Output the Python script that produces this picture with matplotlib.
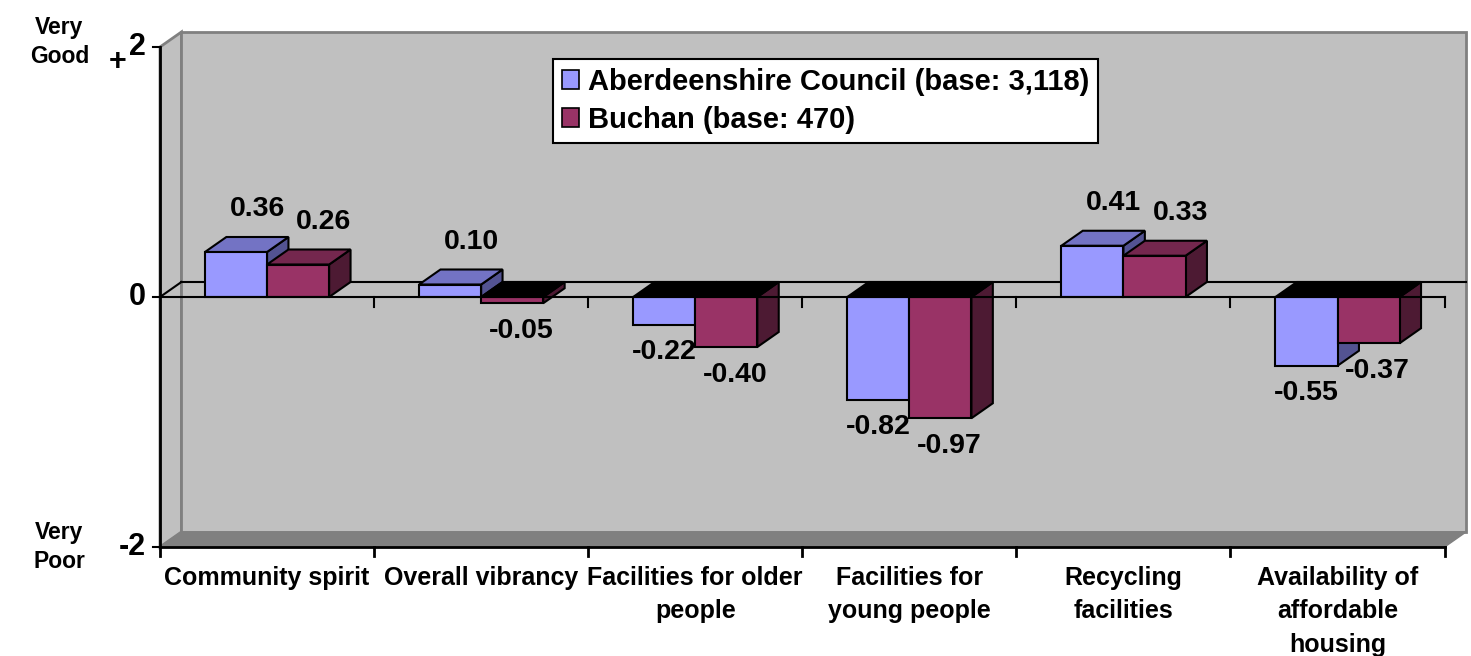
import matplotlib
matplotlib.use("Agg")
import matplotlib.pyplot as plt
from matplotlib.patches import Polygon, Rectangle, Patch

plt.rcParams['font.family'] = ['Liberation Sans', 'DejaVu Sans']
plt.rcParams['font.weight'] = 'bold'

# Données
categories = ["Community spirit", "Overall vibrancy", "Facilities for older\npeople",
              "Facilities for\nyoung people", "Recycling\nfacilities",
              "Availability of\naffordable\nhousing"]
aberdeenshire = [0.36, 0.10, -0.22, -0.82, 0.41, -0.55]
buchan = [0.26, -0.05, -0.40, -0.97, 0.33, -0.37]
series_names = ["Aberdeenshire Council (base: 3,118)", "Buchan (base: 470)"]
y_ticks = [-2, 0, 2]

# Styles (face avant, dessus, côté)
couleurs = [("#9999FF", "#7373C4", "#535392"),
            ("#993366", "#74274E", "#4D1A33")]

DX, DY = 0.1, 0.12      # profondeur 3D (unités x / unités y)
W = 0.29                 # largeur d'une barre
N = len(categories)

fig = plt.figure(figsize=(14.71, 6.56), dpi=100)
ax = fig.add_axes([160 / 1471, 109 / 656, 1306 / 1471, 515 / 656])
ax.set_xlim(0, N + DX)
ax.set_ylim(-2, 2 + DY)
ax.axis('off')

# Murs et sol
ax.add_patch(Polygon([(0, -2), (DX, -2 + DY), (DX, 2 + DY), (0, 2)],
                     facecolor="#C0C0C0", edgecolor="#808080", lw=2, clip_on=False))
ax.add_patch(Rectangle((DX, -2 + DY), N, 4, facecolor="#C0C0C0",
                       edgecolor="#808080", lw=2, clip_on=False))
ax.add_patch(Polygon([(0, -2), (N, -2), (N + DX, -2 + DY), (DX, -2 + DY)],
                     facecolor="#808080", edgecolor="#808080", lw=1, clip_on=False))

# Ligne du zéro (arrière + diagonale)
ax.plot([DX, N + DX], [DY, DY], color="black", lw=1.5, clip_on=False)
ax.plot([0, DX], [0, DY], color="black", lw=1.5, clip_on=False)


def barre3d(x0, v, c):
    front, top, side = c
    x1 = x0 + W
    if v >= 0:
        ax.add_patch(Polygon([(x1, 0), (x1, v), (x1 + DX, v + DY), (x1 + DX, DY)],
                             facecolor=side, edgecolor="black", lw=1.5, zorder=3))
        ax.add_patch(Polygon([(x0, v), (x1, v), (x1 + DX, v + DY), (x0 + DX, v + DY)],
                             facecolor=top, edgecolor="black", lw=1.5, zorder=3))
    else:
        ax.add_patch(Polygon([(x1, v), (x1, 0), (x1 + DX, DY), (x1 + DX, v + DY)],
                             facecolor=side, edgecolor="black", lw=1.5, zorder=3))
        ax.add_patch(Polygon([(x0, 0), (x1, 0), (x1 + DX, DY), (x0 + DX, DY)],
                             facecolor="black", edgecolor="black", lw=1.5, zorder=3))
    ax.add_patch(Rectangle((x0, min(0, v)), W, abs(v), facecolor=front,
                           edgecolor="black", lw=1.5, zorder=3))


for i in range(N):
    for s, vals in enumerate([aberdeenshire, buchan]):
        x0 = i + 0.5 - W + s * W
        barre3d(x0, vals[i], couleurs[s])
        v = vals[i]
        xc = x0 + W / 2
        if v >= 0:
            ax.text(xc + 0.1 + 0.02 * s, v + DY + 0.22, f"{v:.2f}", ha='center',
                    va='center', fontsize=20.5, zorder=5)
        else:
            ax.text(xc + 0.04 * s, v - 0.22, f"{v:.2f}", ha='center',
                    va='center', fontsize=20.5, zorder=5)

# Axes avant
ax.plot([0, N], [0, 0], color="black", lw=1.5, zorder=4, clip_on=False)
ax.plot([0, N], [-2, -2], color="black", lw=2, zorder=4, clip_on=False)
ax.plot([0, 0], [-2, 2], color="black", lw=2, zorder=4, clip_on=False)
for i in range(N + 1):
    ax.plot([i, i], [-2, -2.07], color="black", lw=2, clip_on=False)
    if i > 0:
        ax.plot([i, i], [0, -0.08], color="black", lw=1.5, zorder=4, clip_on=False)
for t in y_ticks:
    ax.plot([-0.035, 0], [t, t], color="black", lw=1.5, clip_on=False)
    ax.text(-0.068, t, str(abs(t)) if t > 0 else str(t), ha='right', va='center',
            fontsize=22)
ax.text(-0.158, 1.88, "+", ha='right', va='center', fontsize=22)

ax.text(-0.47, 2.04, "Very\nGood", ha='center', va='center', fontsize=16.5,
        linespacing=1.35)
ax.text(-0.47, -2.0, "Very\nPoor", ha='center', va='center', fontsize=16.5,
        linespacing=1.35)

for i, lab in enumerate(categories):
    ax.text(i + 0.5, -2.15, lab, ha='center', va='top', fontsize=18,
            linespacing=1.5)

# Légende
handles = [Patch(facecolor=couleurs[s][0], edgecolor="black", lw=1.2)
           for s in range(2)]
leg = fig.legend(handles, series_names, loc='upper left',
                 bbox_to_anchor=(553 / 1471, 1 - 59 / 656), fontsize=21,
                 frameon=True, fancybox=False, edgecolor="black", framealpha=1,
                 handlelength=0.6, handleheight=0.6, handletextpad=0.3,
                 borderpad=0.3, borderaxespad=0, labelspacing=0.35)
leg.get_frame().set_linewidth(1.5)

fig.savefig("out.png", dpi=100, facecolor="white")
